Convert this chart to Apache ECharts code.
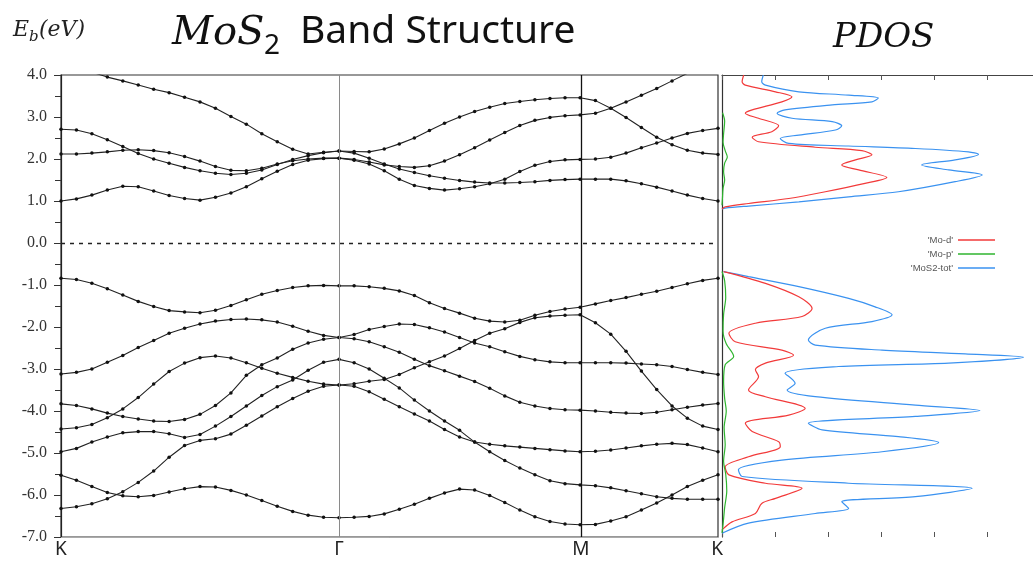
<!DOCTYPE html>
<html>
<head>
<meta charset="utf-8">
<title>MoS2 Band Structure</title>
<script src="https://cdn.jsdelivr.net/npm/echarts@6/dist/echarts.min.js"></script>
<style>
  html, body { margin: 0; padding: 0; background: #fff; }
  #chart { width: 1033px; height: 570px; }
</style>
</head>
<body>
<div id="chart"></div>
<script>
// k-path K -> Γ -> M -> K
const kLabels = ["K", "Γ", "M", "K"];
const segLength = [1.0, 0.867, 0.496]; // relative length of each path segment
const segSteps = [18, 16, 9];          // k-point intervals per segment

// conduction bands (eV)
const cb1 = [1.00, 1.05, 1.14, 1.26, 1.35, 1.34, 1.24, 1.13, 1.06, 1.02, 1.09, 1.19, 1.34, 1.53, 1.71, 1.87, 1.97, 2.01, 2.02,
  1.97, 1.88, 1.72, 1.52, 1.37, 1.30, 1.26, 1.29, 1.34, 1.41, 1.52, 1.70, 1.85, 1.94, 1.98, 1.99,
  2.00, 2.04, 2.14, 2.27, 2.38, 2.50, 2.61, 2.68, 2.73];
const cb2 = [2.12, 2.12, 2.14, 2.17, 2.21, 2.22, 2.20, 2.15, 2.06, 1.95, 1.82, 1.73, 1.72, 1.78, 1.88, 1.96, 2.00, 2.02, 2.02,
  1.99, 1.93, 1.86, 1.82, 1.80, 1.84, 1.95, 2.10, 2.27, 2.45, 2.63, 2.80, 2.92, 2.99, 3.03, 3.05,
  3.09, 3.21, 3.36, 3.52, 3.68, 3.86, 4.04, 4.18, 4.28];
const cb3 = [2.71, 2.69, 2.60, 2.46, 2.30, 2.13, 2.00, 1.90, 1.80, 1.72, 1.66, 1.63, 1.66, 1.74, 1.87, 1.99, 2.08, 2.15, 2.19,
  2.14, 2.02, 1.88, 1.76, 1.68, 1.60, 1.54, 1.49, 1.45, 1.43, 1.43, 1.44, 1.46, 1.49, 1.51, 1.52,
  1.52, 1.52, 1.48, 1.41, 1.33, 1.24, 1.14, 1.06, 1.00];
const cb4 = [4.28, 4.19, 4.07, 3.95, 3.86, 3.76, 3.66, 3.58, 3.47, 3.36, 3.21, 3.01, 2.83, 2.60, 2.41, 2.23, 2.12, 2.16, 2.19,
  2.18, 2.17, 2.24, 2.36, 2.50, 2.68, 2.85, 3.00, 3.13, 3.23, 3.32, 3.37, 3.41, 3.44, 3.46, 3.46,
  3.39, 3.21, 2.99, 2.75, 2.52, 2.34, 2.21, 2.14, 2.11];

// valence bands (eV)
const vb1 = [-0.84, -0.87, -0.96, -1.09, -1.24, -1.39, -1.51, -1.61, -1.64, -1.66, -1.60, -1.49, -1.35, -1.22, -1.13, -1.06, -1.02, -1.01, -1.02,
  -1.02, -1.04, -1.08, -1.14, -1.25, -1.42, -1.56, -1.67, -1.79, -1.86, -1.88, -1.84, -1.72, -1.63, -1.57, -1.53,
  -1.45, -1.37, -1.30, -1.22, -1.15, -1.06, -0.97, -0.89, -0.84];
const vb2 = [-3.12, -3.08, -3.00, -2.84, -2.68, -2.49, -2.32, -2.15, -2.03, -1.93, -1.86, -1.82, -1.81, -1.83, -1.88, -1.98, -2.10, -2.20, -2.25,
  -2.18, -2.06, -1.99, -1.93, -1.94, -2.02, -2.12, -2.25, -2.38, -2.47, -2.59, -2.70, -2.78, -2.83, -2.85, -2.85,
  -2.85, -2.85, -2.86, -2.88, -2.90, -2.94, -3.01, -3.08, -3.13];
const vb3 = [-3.83, -3.87, -3.95, -4.05, -4.13, -4.19, -4.24, -4.25, -4.20, -4.08, -3.87, -3.57, -3.15, -2.90, -2.74, -2.53, -2.38, -2.29, -2.25,
  -2.28, -2.35, -2.47, -2.60, -2.77, -2.92, -3.04, -3.17, -3.30, -3.46, -3.64, -3.79, -3.88, -3.94, -3.97, -3.98,
  -4.00, -4.03, -4.05, -4.06, -4.03, -3.97, -3.91, -3.86, -3.82];
const vb4 = [-4.97, -4.89, -4.74, -4.62, -4.52, -4.49, -4.49, -4.54, -4.63, -4.56, -4.36, -4.13, -3.88, -3.63, -3.42, -3.26, -3.03, -2.84, -2.77,
  -2.85, -3.00, -3.22, -3.45, -3.74, -4.00, -4.24, -4.46, -4.74, -4.97, -5.18, -5.36, -5.52, -5.66, -5.73, -5.76,
  -5.78, -5.83, -5.90, -5.97, -6.04, -6.08, -6.10, -6.10, -6.10];
const vb5 = [-4.43, -4.40, -4.32, -4.16, -3.95, -3.68, -3.36, -3.06, -2.86, -2.73, -2.69, -2.74, -2.85, -2.98, -3.10, -3.20, -3.29, -3.36, -3.38,
  -3.35, -3.29, -3.25, -3.13, -2.97, -2.83, -2.69, -2.51, -2.32, -2.15, -2.04, -1.89, -1.78, -1.74, -1.72, -1.71,
  -1.90, -2.17, -2.58, -3.05, -3.49, -3.88, -4.17, -4.36, -4.44];
const vb6 = [-6.32, -6.28, -6.21, -6.09, -5.92, -5.70, -5.43, -5.10, -4.82, -4.70, -4.66, -4.55, -4.34, -4.12, -3.90, -3.70, -3.53, -3.41, -3.38,
  -3.41, -3.54, -3.72, -3.90, -4.07, -4.24, -4.44, -4.62, -4.74, -4.79, -4.83, -4.86, -4.89, -4.92, -4.95, -4.97,
  -4.96, -4.93, -4.88, -4.83, -4.79, -4.77, -4.80, -4.88, -4.97];
const vb7 = [-5.53, -5.65, -5.80, -5.94, -6.02, -6.04, -6.01, -5.93, -5.85, -5.80, -5.81, -5.89, -6.00, -6.13, -6.27, -6.39, -6.48, -6.53, -6.54,
  -6.53, -6.51, -6.45, -6.34, -6.22, -6.08, -5.95, -5.86, -5.88, -6.01, -6.18, -6.36, -6.52, -6.63, -6.69, -6.71,
  -6.70, -6.62, -6.52, -6.36, -6.19, -6.00, -5.80, -5.65, -5.52];

// PDOS: energy (eV) and density for each curve, conduction (CB) and valence (VB) parts
const totCB_E = [4.0, 3.84, 3.76, 3.60, 3.52, 3.45, 3.36, 3.29, 3.17, 3.09, 2.97, 2.89, 2.79, 2.69, 2.57, 2.49, 2.37, 2.31, 2.25, 2.17, 2.11, 1.98, 1.86, 1.74, 1.62, 1.46, 1.22, 1.10, 0.98, 0.88, 0.83, 0.81];
const totCB = [0.78, 0.75, 0.82, 1.45, 2.39, 2.95, 2.83, 2.08, 1.19, 1.04, 1.32, 2.08, 2.26, 2.14, 1.45, 1.10, 1.26, 2.39, 3.65, 4.65, 4.84, 4.40, 3.77, 4.28, 4.91, 4.40, 3.33, 2.39, 1.45, 0.50, 0.06, 0];
const totVB_E = [-0.68, -0.80, -1.04, -1.32, -1.52, -1.71, -1.87, -2.03, -2.31, -2.43, -2.55, -2.64, -2.72, -2.86, -2.94, -3.10, -3.34, -3.50, -3.66, -3.86, -3.99, -4.13, -4.29, -4.45, -4.61, -4.75, -4.97, -5.17, -5.40, -5.56, -5.72, -5.84, -6.04, -6.16, -6.32, -6.44, -6.67, -6.91];
const totVB = [0.03, 0.50, 1.45, 2.39, 2.89, 3.21, 2.83, 1.95, 1.63, 1.76, 3.02, 4.59, 5.69, 4.28, 2.20, 1.19, 1.38, 1.23, 1.76, 3.65, 4.87, 3.65, 1.63, 1.89, 3.33, 4.09, 3.02, 1.13, 0.31, 0.38, 2.39, 4.72, 3.65, 2.26, 2.39, 1.76, 0.50, 0];
const modCB_E = [4.0, 3.84, 3.76, 3.60, 3.48, 3.36, 3.17, 3.09, 2.97, 2.79, 2.65, 2.52, 2.41, 2.28, 2.20, 2.10, 1.98, 1.86, 1.74, 1.56, 1.42, 1.22, 1.06, 0.94, 0.86, 0.81];
const modCB = [0.41, 0.38, 0.44, 1.01, 1.32, 1.13, 0.57, 0.44, 0.69, 1.07, 0.94, 0.57, 0.69, 1.76, 2.64, 2.83, 2.52, 2.26, 2.58, 3.11, 2.70, 1.95, 1.26, 0.50, 0.06, 0];
const modVB_E = [-0.68, -0.96, -1.28, -1.56, -1.75, -1.91, -2.15, -2.35, -2.55, -2.67, -2.86, -3.02, -3.18, -3.50, -3.66, -3.94, -4.10, -4.29, -4.49, -4.73, -4.85, -5.09, -5.33, -5.52, -5.72, -5.84, -6.08, -6.20, -6.44, -6.64, -6.83];
const modVB = [0.03, 0.82, 1.45, 1.70, 1.51, 0.63, 0.13, 0.25, 1.13, 1.35, 0.82, 0.63, 0.69, 0.50, 0.82, 1.57, 1.26, 0.44, 0.57, 1.07, 1.10, 0.50, 0.06, 0.13, 0.82, 1.51, 1.01, 0.75, 0.63, 0.19, 0];
const mopCB_E = [3.1, 2.9, 2.6, 2.4, 2.2, 2.05, 1.9, 1.7, 1.5, 1.3, 1.1, 0.9];
const mopCB = [0.01, 0.05, 0.03, 0.02, 0.06, 0.10, 0.05, 0.03, 0.05, 0.02, 0.01, 0];
const mopVB_E = [-0.68, -0.9, -1.3, -1.7, -2.1, -2.4, -2.7, -2.9, -3.3, -3.7, -4.0, -4.4, -4.8, -5.2, -5.5, -5.9, -6.3, -6.7, -6.9];
const mopVB = [0, 0.05, 0.07, 0.03, 0.02, 0.08, 0.22, 0.06, 0.03, 0.05, 0.08, 0.04, 0.06, 0.03, 0.07, 0.09, 0.05, 0.02, 0];

const yTicks = [-7, -6, -5, -4, -3, -2, -1, 0, 1, 2, 3, 4];

// k positions along the path
const kx = [0];
const kTicks = [0];
let acc = 0;
segLength.forEach(function (len, s) {
  for (let i = 1; i <= segSteps[s]; i++) kx.push(acc + len * i / segSteps[s]);
  acc += len;
  kTicks.push(acc);
});

function pdos(eCB, dCB, eVB, dVB) {
  const a = dCB.map(function (d, i) { return [d, eCB[i]]; });
  const b = dVB.map(function (d, i) { return [d, eVB[i]]; });
  return a.concat([['-', '-']], b);
}

const myChart = echarts.init(document.getElementById("chart"));

const bands = [cb1, cb2, cb3, cb4, vb1, vb2, vb3, vb4, vb5, vb6, vb7];
const series = bands.map(function (b, n) {
  return {
    name: "band" + (n + 1),
    type: "line",
    xAxisIndex: 0,
    yAxisIndex: 0,
    data: b.map(function (e, j) { return [kx[j], e]; }),
    symbol: "circle",
    symbolSize: 3.5,
    lineStyle: { color: "#222", width: 1.1 },
    itemStyle: { color: "#111" },
    silent: true,
    z: 4
  };
});

// high-symmetry lines, labels and the Fermi level
series[0].markLine = {
  silent: true,
  symbol: "none",
  animation: false,
  label: { show: false },
  data: [
    { xAxis: kTicks[0], name: kLabels[0], lineStyle: { color: "rgba(0,0,0,0)", width: 1 } },
    { xAxis: kTicks[1], name: kLabels[1], lineStyle: { color: "#8a8a8a", width: 1, type: "solid" } },
    { xAxis: kTicks[2], name: kLabels[2], lineStyle: { color: "#111", width: 1.3, type: "solid" } },
    { xAxis: kTicks[3], name: kLabels[3], lineStyle: { color: "rgba(0,0,0,0)", width: 1 } },
    { yAxis: 0, lineStyle: { color: "#222", width: 1.4, type: [4, 5] } }
  ].map(function (d) {
    if (d.name) {
      d.label = {
        show: true, position: "start", formatter: "{b}", distance: 3,
        color: "#222", fontSize: 19, fontFamily: "Noto Sans"
      };
    }
    return d;
  })
};

series.push(
  {
    name: "'MoS2-tot'", type: "line", xAxisIndex: 1, yAxisIndex: 1,
    data: pdos(totCB_E, totCB, totVB_E, totVB),
    showSymbol: false, smooth: 0.3, connectNulls: false,
    lineStyle: { color: "#3a92f0", width: 1.2 }, itemStyle: { color: "#3a92f0" }, z: 2
  },
  {
    name: "'Mo-d'", type: "line", xAxisIndex: 1, yAxisIndex: 1,
    data: pdos(modCB_E, modCB, modVB_E, modVB),
    showSymbol: false, smooth: 0.3, connectNulls: false,
    lineStyle: { color: "#f23a3a", width: 1.2 }, itemStyle: { color: "#f23a3a" }, z: 3
  },
  {
    name: "'Mo-p'", type: "line", xAxisIndex: 1, yAxisIndex: 1,
    data: pdos(mopCB_E, mopCB, mopVB_E, mopVB),
    showSymbol: false, smooth: 0.3, connectNulls: false,
    lineStyle: { color: "#2fb52f", width: 1.2 }, itemStyle: { color: "#2fb52f" }, z: 3
  }
);

const option = {
  animation: false,
  backgroundColor: "#fff",
  graphic: [
    { type: "text", left: 13, top: 19, style: { text: "E", font: "italic 22px 'DejaVu Serif'", fill: "#222" } },
    { type: "text", left: 29, top: 30, style: { text: "b", font: "italic 15px 'DejaVu Serif'", fill: "#222" } },
    { type: "text", left: 39, top: 19, style: { text: "(eV)", font: "italic 22px 'DejaVu Serif'", fill: "#222" } },
    { type: "text", left: 172, top: 14, style: { text: "MoS", font: "italic 40px 'DejaVu Serif'", fill: "#111" } },
    { type: "text", left: 264, top: 32, style: { text: "2", font: "28px 'Noto Sans'", fill: "#111" } },
    { type: "text", left: 300, top: 12, style: { text: "Band Structure", font: "39px 'Noto Sans'", fill: "#111" } },
    { type: "text", left: 833, top: 21, style: { text: "PDOS", font: "italic 34px 'DejaVu Serif'", fill: "#111" } }
  ],
  legend: {
    data: ["'Mo-d'", "'Mo-p'", "'MoS2-tot'"],
    orient: "vertical",
    align: "right",
    right: 33,
    top: 230,
    icon: "rect",
    itemWidth: 37,
    itemHeight: 1.5,
    itemGap: 4,
    textStyle: { fontSize: 9.5, color: "#555", fontFamily: "Liberation Sans" }
  },
  grid: [
    { left: 61, top: 75, width: 657, height: 462, show: true, borderColor: "#333", borderWidth: 1.2 },
    { left: 722, top: 75, width: 311, height: 462 }
  ],
  xAxis: [
    {
      gridIndex: 0, type: "value", min: 0, max: kTicks[3],
      axisLine: { onZero: false, lineStyle: { color: "#aaa" } },
      axisTick: { show: false }, axisLabel: { show: false }, splitLine: { show: false }
    },
    {
      gridIndex: 1, type: "value", min: 0, max: 5.87, interval: 1,
      axisLine: { show: false, onZero: false },
      axisTick: { show: true, inside: true, length: 5, lineStyle: { color: "#555" } },
      axisLabel: { show: false }, splitLine: { show: false }
    },
    {
      gridIndex: 1, type: "value", position: "top", min: 0, max: 5.87, interval: 1,
      axisLine: { show: true, onZero: false, lineStyle: { color: "#444", width: 1.2 } },
      axisTick: { show: true, inside: true, length: 5, lineStyle: { color: "#555" } },
      axisLabel: { show: false }, splitLine: { show: false }
    }
  ],
  yAxis: [
    {
      gridIndex: 0, type: "value", min: yTicks[0], max: yTicks[yTicks.length - 1], interval: 1,
      axisLine: { show: true, onZero: false, lineStyle: { color: "#222", width: 1.2 } },
      axisTick: { show: true, inside: false, length: 7, lineStyle: { color: "#333" } },
      minorTick: { show: true, splitNumber: 2, length: 6, lineStyle: { color: "#333" } },
      axisLabel: {
        margin: 14, color: "#333", fontSize: 16, fontFamily: "Liberation Serif",
        formatter: function (v) { return v.toFixed(1); }
      },
      splitLine: { show: false }
    },
    {
      gridIndex: 1, type: "value", min: yTicks[0], max: yTicks[yTicks.length - 1], interval: 1,
      axisLine: { show: true, onZero: false, lineStyle: { color: "#333", width: 1.2 } },
      axisTick: { show: false }, axisLabel: { show: false }, splitLine: { show: false }
    }
  ],
  series: series
};

window.addEventListener("resize", function () {
  myChart.resize();
});
myChart.setOption(option);
</script>
</body>
</html>
